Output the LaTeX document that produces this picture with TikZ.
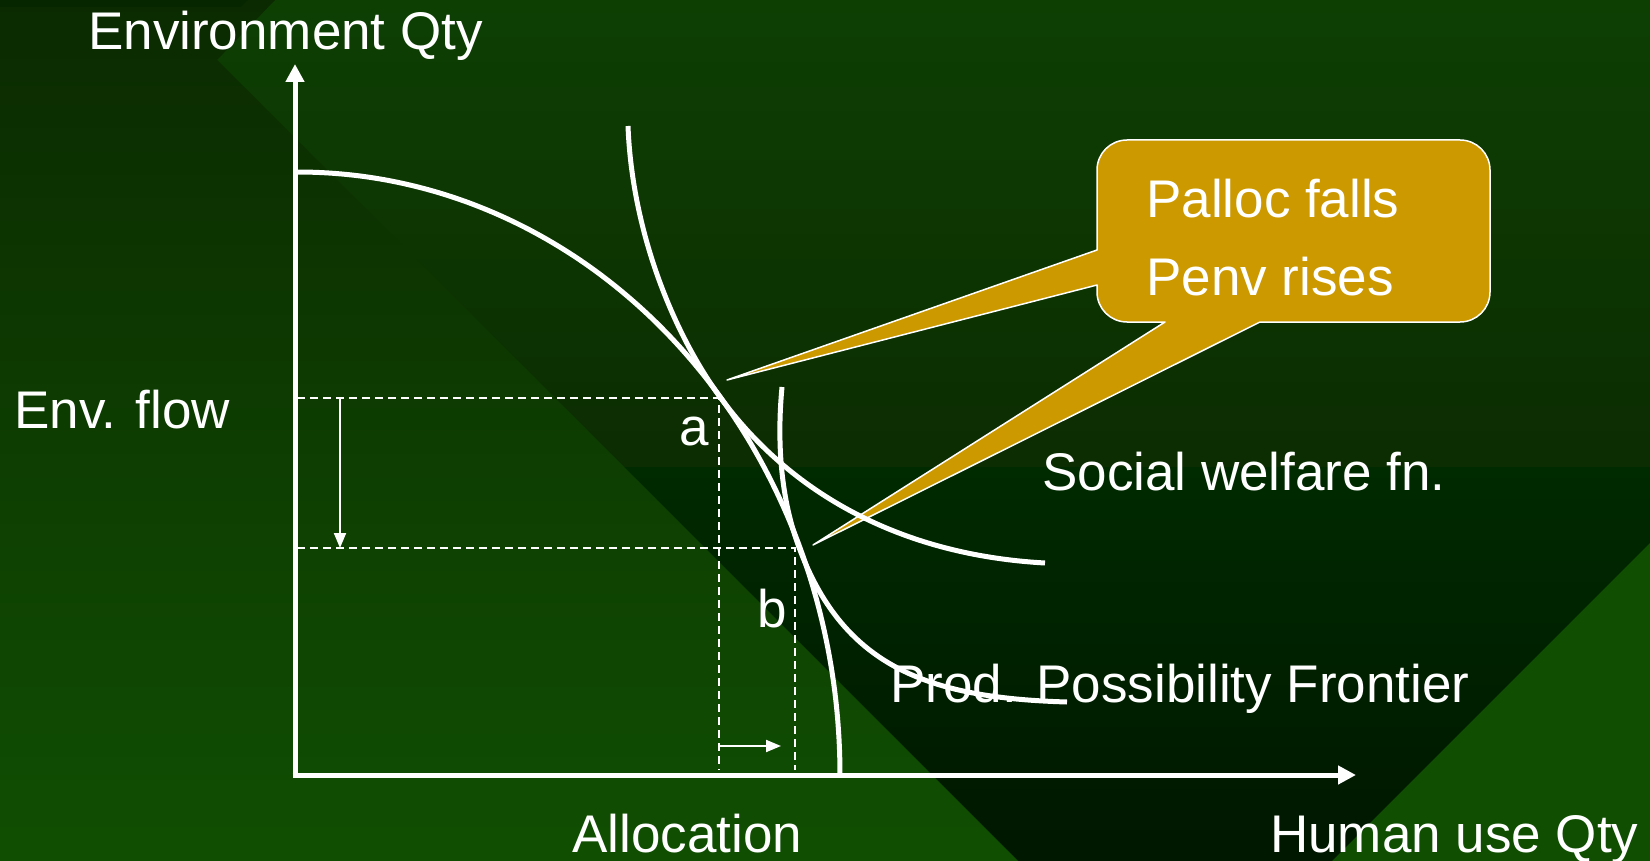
\documentclass[tikz,border=0pt]{standalone}
\usepackage{fontspec}
\setmainfont{Liberation Sans}
\usetikzlibrary{arrows.meta}
\definecolor{gold}{HTML}{CC9900}
\definecolor{bgTopR}{HTML}{0D3F03}
\definecolor{bgMidR}{HTML}{0C2C02}
\definecolor{bgLowR}{HTML}{002A00}
\definecolor{bgBotR}{HTML}{001700}
\definecolor{bgTopL}{HTML}{0B2A01}
\definecolor{bgMidL}{HTML}{0F4602}
\definecolor{bgBotL}{HTML}{104F02}
\definecolor{bgBright}{HTML}{104E02}
\definecolor{bgStrip}{HTML}{062600}
\begin{document}
\begin{tikzpicture}[x=1pt,y=-1pt,
  lbl/.style={text=white,font=\fontsize{53}{60}\selectfont,inner sep=0pt,anchor=base west},
  curve/.style={white,line width=5pt},
  axisline/.style={white,line width=5pt,-{Triangle[length=18pt,width=18pt]}},
  guide/.style={white,line width=2pt,dash pattern=on 8pt off 5pt},
  shiftarrow/.style={white,line width=2pt,-{Triangle[length=15pt,width=12pt]}},
  callout/.style={fill=gold,draw=white,line width=1.5pt,line join=round}]
\useasboundingbox (0,0) rectangle (1650,861);
% background
\shade[top color=bgTopR,bottom color=bgMidR] (0,0) rectangle (1650,467);
\shade[top color=bgLowR,bottom color=bgBotR] (0,467) rectangle (1650,861);
\shade[top color=bgTopL,middle color=bgMidL,bottom color=bgBotL]
  (0,0) -- (275,0) -- (217,60) -- (1018,861) -- (0,861) -- cycle;
\fill[bgStrip] (0,0) -- (248,0) -- (241,7) -- (0,7) -- cycle;
\fill[bgBright] (1650,543) -- (1650,861) -- (1332,861) -- cycle;

% callout
\draw[callout] (1127,140) -- (1460,140) .. controls (1476.57,140) and (1490,153.43) .. (1490,170)
  -- (1490,292) .. controls (1490,308.57) and (1476.57,322) .. (1460,322)
  -- (1260,322) -- (813,545) -- (1165,322)
  -- (1127,322) .. controls (1110.43,322) and (1097,308.57) .. (1097,292)
  -- (1097,285) -- (727,380) -- (1097,250)
  -- (1097,170) .. controls (1097,153.43) and (1110.43,140) .. (1127,140) -- cycle;

% named points
\coordinate (O) at (295,775);
\coordinate (ytop) at (295,64);
\coordinate (ybot) at (295,777.5);
\coordinate (xbeg) at (292.5,775);
\coordinate (xend) at (1356,775);
\coordinate (a) at (719,398);
\coordinate (b) at (795,548);
\coordinate (ayax) at (297,398);
\coordinate (byax) at (297,548);
\coordinate (afoot) at (719,770);
\coordinate (bfoot) at (795,770);

% guides
\draw[guide] (ayax) -- (a) -- (afoot);
\draw[guide] (byax) -- (b) -- (bfoot);
\draw[shiftarrow] (340,398) -- (340,548);
\draw[shiftarrow] (719,746) -- (781,746);

% axes
\draw[axisline] (ybot) -- (ytop);
\draw[axisline] (xbeg) -- (xend);

% production possibility frontier
\draw[curve] plot[domain=0:90,samples=80,smooth] ({298+542*cos(\x)},{775-603*sin(\x)});
% social welfare fn 1
\draw[curve] (628,126) .. controls (632,230) and (672,331) .. (720,397)
  .. controls (790,493) and (900,555) .. (1045,563);
% social welfare fn 2
\draw[curve] (782,387) .. controls (777,440) and (780,498) .. (800,550)
  .. controls (845,668) and (930,698) .. (1067,702);

% labels
\node[lbl] (envq) at (88,50) {Environment Qty};
\node[lbl] (envf) at (14,428) {Env. flow};
\node[lbl] (pal) at (1146,218) {Palloc falls};
\node[lbl] (pen) at (1146,295) {Penv rises};
\node[lbl] (swf) at (1042,490) {Social welfare fn.};
\node[lbl] (ppf) at (890,702) {Prod. Possibility Frontier};
\node[lbl] (alloc) at (572,852) {Allocation};
\node[lbl] (human) at (1270,852) {Human use Qty};
\node[lbl] (la) at (679,445) {a};
\node[lbl] (lb) at (757,627) {b};
\end{tikzpicture}
\end{document}
